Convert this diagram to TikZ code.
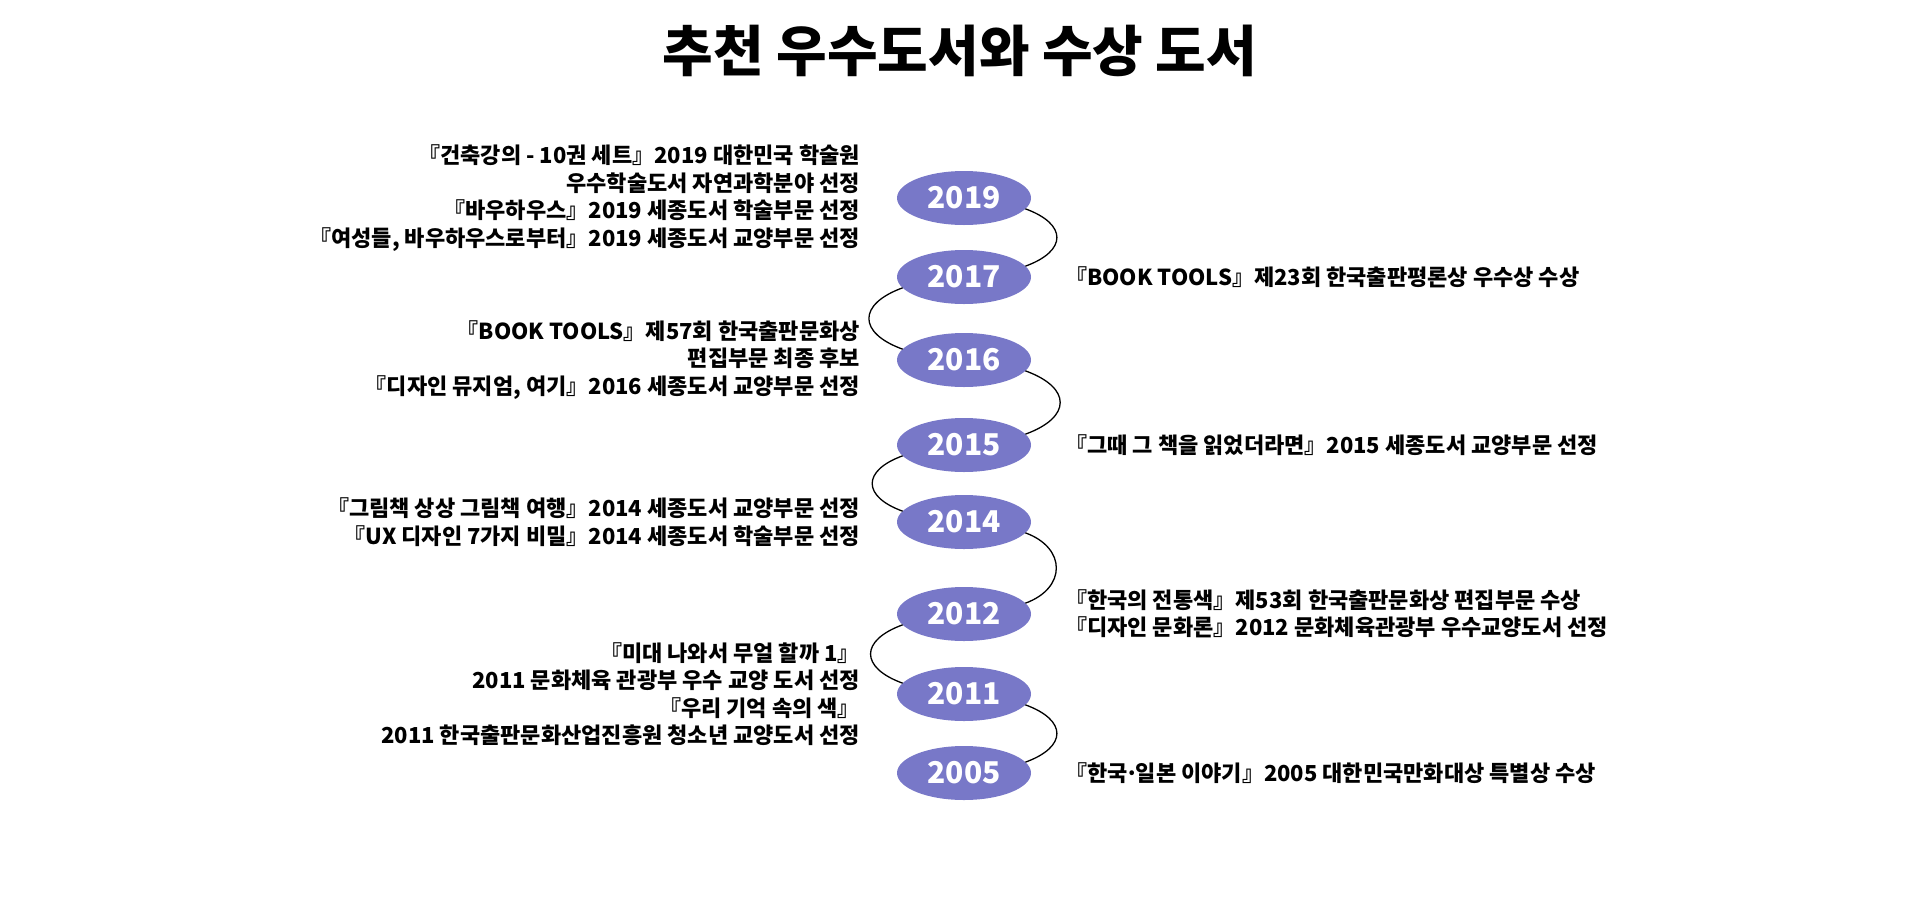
\documentclass[tikz,border=0pt]{standalone}
\usepackage{fontspec}
\setmainfont{Noto Sans CJK KR}
\usetikzlibrary{shapes.geometric, positioning}
\definecolor{yearblue}{HTML}{7878C8}

\begin{document}
\begin{tikzpicture}[
    x=1pt, y=-1pt,
    % Node styles
    year/.style={
        ellipse, fill=yearblue, draw=none, outer sep=0pt, inner sep=0pt,
        minimum width=134pt, minimum height=54pt,
        font=\fontsize{30}{32}\selectfont\bfseries, text=white
    },
    lefttext/.style={
        inner sep=0pt, align=right,
        font=\fontsize{22}{27.5}\selectfont\bfseries
    },
    righttext/.style={
        inner sep=0pt, align=left,
        font=\fontsize{22}{27.5}\selectfont\bfseries
    },
    heading/.style={font=\fontsize{55}{60}\selectfont\bfseries},
    link/.style={line width=1.3pt, black, looseness=2}
]
\useasboundingbox (0,0) rectangle (1920,900);

% ============================================================
% Title
% ============================================================
\node[heading] (title) at (960,51) {추천 우수도서와 수상 도서};

% ============================================================
% Timeline: years from top to bottom
% ============================================================
\node[year] (y2019) at (964,198) {2019};
\node[year, below=25pt of y2019] (y2017) {2017};
\node[year, below=29pt of y2017] (y2016) {2016};
\node[year, below=31pt of y2016] (y2015) {2015};
\node[year, below=23pt of y2015] (y2014) {2014};
\node[year, below=38pt of y2014] (y2012) {2012};
\node[year, below=26pt of y2012] (y2011) {2011};
\node[year, below=25pt of y2011] (y2005) {2005};

% ============================================================
% Books, left side
% ============================================================
\node[lefttext, left=37pt of y2019] (b2019) {%
    『건축강의 - 10권 세트』2019 대한민국 학술원\\
    우수학술도서 자연과학분야 선정\\
    『바우하우스』2019 세종도서 학술부문 선정\\
    『여성들, 바우하우스로부터』2019 세종도서 교양부문 선정};

\node[lefttext, left=37pt of y2016] (b2016) {%
    『BOOK TOOLS』제57회 한국출판문화상\\
    편집부문 최종 후보\\
    『디자인 뮤지엄, 여기』2016 세종도서 교양부문 선정};

\node[lefttext, left=37pt of y2014] (b2014) {%
    『그림책 상상 그림책 여행』2014 세종도서 교양부문 선정\\
    『UX 디자인 7가지 비밀』2014 세종도서 학술부문 선정};

\node[lefttext, left=37pt of y2011] (b2011) {%
    『미대 나와서 무얼 할까 1』\\
    2011 문화체육 관광부 우수 교양 도서 선정\\
    『우리 기억 속의 색』\\
    2011 한국출판문화산업진흥원 청소년 교양도서 선정};

% ============================================================
% Books, right side
% ============================================================
\node[righttext, right=34pt of y2017] (b2017) {%
    『BOOK TOOLS』제23회 한국출판평론상 우수상 수상};

\node[righttext, right=34pt of y2015] (b2015) {%
    『그때 그 책을 읽었더라면』2015 세종도서 교양부문 선정};

\node[righttext, right=34pt of y2012] (b2012) {%
    『한국의 전통색』제53회 한국출판문화상 편집부문 수상\\
    『디자인 문화론』2012 문화체육관광부 우수교양도서 선정};

\node[righttext, right=34pt of y2005] (b2005) {%
    『한국{\kern-0.12em}·{\kern-0.12em}일본 이야기』2005 대한민국만화대상 특별상 수상};

% ============================================================
% Links between years
% ============================================================

% bends on the right
\draw[link] (y2019.-10) to[out=-20, in=20] (y2017.10);
\draw[link] (y2016.-10) to[out=-20, in=20] (y2015.10);
\draw[link] (y2014.-10) to[out=-20, in=20, looseness=1.6] (y2012.10);
\draw[link] (y2011.-10) to[out=-20, in=20] (y2005.10);

% bends on the left
\draw[link] (y2017.190) to[out=200, in=160] (y2016.170);
\draw[link] (y2015.190) to[out=200, in=160] (y2014.170);
\draw[link] (y2012.190) to[out=200, in=160] (y2011.170);

\end{tikzpicture}
\end{document}
